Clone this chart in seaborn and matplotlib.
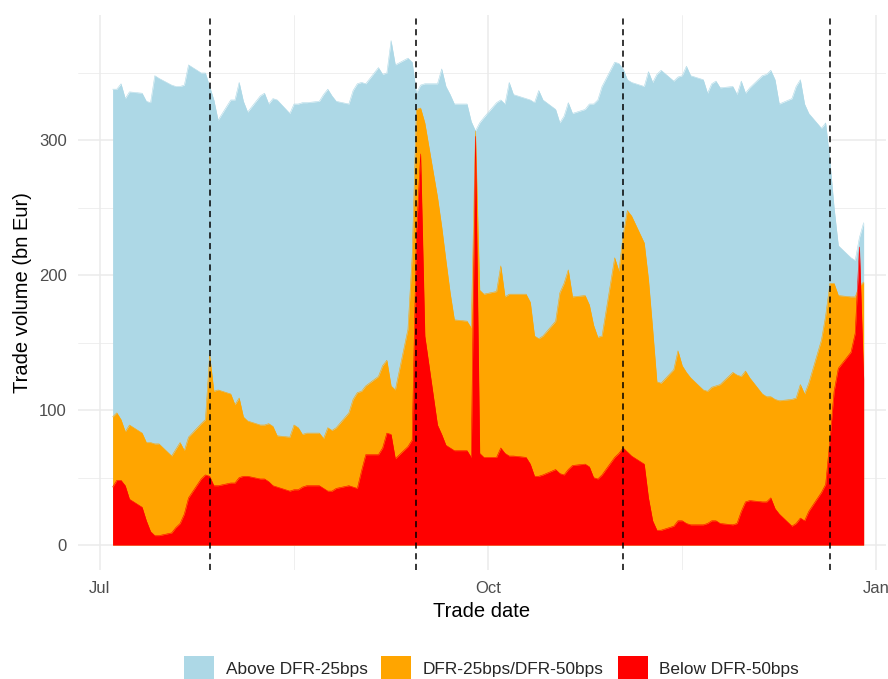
import pandas as pd
import numpy as np
import matplotlib
matplotlib.use("Agg")
import matplotlib.pyplot as plt
from matplotlib.patches import Patch
import seaborn as sns

# business days Jul 4 - Dec 29 2022
trade_dates = pd.bdate_range("2022-07-04", "2022-12-29")

# total trade volume (bn Eur), one row per week
total_volume = [
    338, 338, 342, 331, 336,
    335, 329, 328, 348, 346,
    341, 340, 340, 341, 356,
    350, 350, 340, 330, 315,
    330, 330, 343, 329, 321,
    333, 335, 327, 331, 330,
    320, 327, 327, 328, 328,
    329, 334, 338, 333, 329,
    327, 337, 342, 343, 342,
    354, 349, 350, 374, 356,
    361, 358, 335, 341, 342,
    342, 353, 340, 334, 327,
    327, 314, 307, 313, 317,
    328, 330, 327, 343, 334,
    331, 330, 328, 337, 330,
    323, 313, 318, 328, 320,
    323, 327, 327, 330, 340,
    358, 357, 353, 345, 343,
    340, 351, 343, 349, 352,
    344, 347, 348, 355, 348,
    345, 335, 342, 344, 339,
    340, 334, 344, 335, 339,
    348, 349, 352, 345, 327,
    331, 340, 345, 327, 320,
    309, 313, 285, 250, 222,
    213, 211, 228, 239,
]

# volume traded below DFR-25bps (includes below DFR-50bps)
below_25 = [
    95, 98, 93, 84, 89,
    83, 76, 76, 75, 75,
    66, 71, 76, 70, 80,
    90, 93, 141, 114, 115,
    112, 104, 109, 95, 92,
    89, 89, 90, 88, 81,
    80, 89, 87, 82, 83,
    83, 79, 87, 85, 87,
    98, 108, 113, 114, 118,
    125, 133, 137, 118, 115,
    160, 214, 323, 324, 313,
    258, 236, 211, 187, 167,
    166, 161, 307, 189, 186,
    188, 207, 184, 186, 186,
    186, 180, 155, 153, 155,
    166, 187, 194, 204, 184,
    185, 178, 163, 154, 155,
    213, 203, 230, 248, 244,
    224, 197, 160, 121, 120,
    130, 144, 133, 128, 124,
    115, 114, 117, 118, 119,
    128, 126, 125, 129, 124,
    112, 110, 110, 108, 107,
    108, 109, 119, 112, 120,
    152, 170, 194, 194, 185,
    184, 184, 192, 195,
]

# volume traded below DFR-50bps
below_50 = [
    43, 48, 48, 44, 34,
    28, 18, 10, 7, 7,
    9, 13, 16, 23, 35,
    49, 52, 51, 44, 44,
    46, 46, 50, 51, 51,
    49, 49, 47, 44, 43,
    40, 41, 41, 43, 44,
    44, 42, 40, 40, 42,
    44, 43, 42, 55, 67,
    67, 72, 83, 82, 64,
    73, 78, 230, 290, 155,
    89, 82, 74, 72, 70,
    70, 65, 303, 68, 65,
    65, 72, 68, 66, 66,
    65, 60, 51, 51, 52,
    56, 53, 52, 56, 59,
    60, 58, 50, 49, 52,
    65, 68, 72, 69, 66,
    60, 35, 18, 11, 11,
    14, 18, 18, 16, 15,
    15, 16, 18, 18, 16,
    15, 16, 25, 32, 33,
    32, 32, 35, 27, 23,
    14, 16, 20, 18, 25,
    39, 45, 78, 114, 131,
    143, 157, 221, 123,
]

# DFR changes (dashed lines)
rate_change_dates = pd.to_datetime(["2022-07-27", "2022-09-14", "2022-11-02", "2022-12-21"])

legend_labels = ["Above DFR-25bps", "DFR-25bps/DFR-50bps", "Below DFR-50bps"]
fill_colors = ["#ADD8E6", "#FFA500", "#FF0000"]

df = pd.DataFrame({
    "date": trade_dates,
    "total": total_volume,
    "below25": below_25,
    "below50": below_50,
})

sns.set_theme(style="whitegrid")
plt.rcParams["font.family"] = ["Liberation Sans", "DejaVu Sans"]

fig, ax = plt.subplots(figsize=(8.88, 6.79), dpi=100)
fig.subplots_adjust(left=78/888, right=886/888, bottom=109/679, top=664/679)

for col, color in zip(["total", "below25", "below50"], fill_colors):
    ax.fill_between(df["date"], 0, df[col], color=color, linewidth=0, zorder=2)
    sns.lineplot(data=df, x="date", y=col, color=color, linewidth=0.4, ax=ax, zorder=2)

for d in rate_change_dates:
    ax.axvline(d, color="black", linestyle=(0, (4, 3)), linewidth=1.1, zorder=3)

start = pd.Timestamp("2022-07-01")
ax.set_xlim(start - pd.Timedelta(days=5.2), start + pd.Timedelta(days=186.3))
ax.set_ylim(-18.5, 393)

ax.set_xticks(pd.to_datetime(["2022-07-01", "2022-10-01", "2023-01-01"]))
ax.set_xticklabels(["Jul", "Oct", "Jan"])
ax.set_xticks(pd.to_datetime(["2022-08-16", "2022-11-16"]), minor=True)
ax.set_yticks([0, 100, 200, 300])
ax.set_yticks([50, 150, 250, 350], minor=True)

ax.grid(which="major", color="#EBEBEB", linewidth=1.1)
ax.grid(which="minor", color="#EBEBEB", linewidth=0.55)
ax.set_axisbelow(True)
sns.despine(ax=ax, left=True, bottom=True)

ax.tick_params(which="both", length=0, pad=8, labelsize=12, labelcolor="#4D4D4D")
ax.set_xlabel("Trade date", fontsize=14.5, color="black", labelpad=4)
ax.set_ylabel("Trade volume (bn Eur)", fontsize=14.5, color="black", labelpad=5)

handles = [Patch(facecolor=c, edgecolor="none") for c in fill_colors]
fig.legend(handles, legend_labels, loc="center", bbox_to_anchor=(491.5/888, 11/679),
           ncol=3, frameon=False, fontsize=12.4, handlelength=1.75, handleheight=1.72,
           handletextpad=0.67, columnspacing=0.8, borderpad=0)

plt.savefig("out.png", dpi=100)
